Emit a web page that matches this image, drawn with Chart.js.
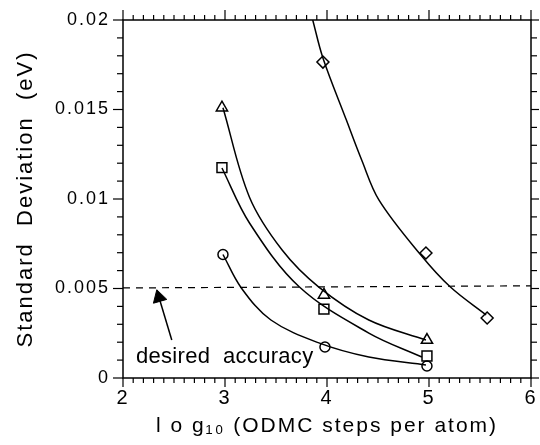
<!DOCTYPE html>
<html><head><meta charset="utf-8">
<script src="https://cdn.jsdelivr.net/npm/chart.js@4.4.1/dist/chart.umd.min.js"></script>
<style>html,body{margin:0;padding:0;background:#fff}#wrap{width:540px;height:445px}</style>
</head><body><div id="wrap"><canvas id="c" width="540" height="445"></canvas></div>
<script>
// ---- data ----
const xTickValues = [2, 3, 4, 5, 6];
const yTickValues = [0, 0.005, 0.01, 0.015, 0.02];
const yTickLabels = ['0', '0.005', '0.01', '0.015', '0.02'];

// markers
const circleX = [2.98, 3.98, 4.98];
const circleY = [0.0069, 0.00173, 0.00067];
const squareX = [2.97, 3.97, 4.98];
const squareY = [0.01175, 0.00385, 0.00123];
const triangleX = [2.97, 3.97, 4.98];
const triangleY = [0.0151, 0.00464, 0.00212];
const diamondX = [3.96, 4.97, 5.57];
const diamondY = [0.01765, 0.00698, 0.00335];

// fitted curves
const circleCurveX = [2.98, 3.16, 3.45, 3.92, 4.41, 4.97];
const circleCurveY = [0.0069, 0.00503, 0.00324, 0.00196, 0.00117, 0.00073];
const squareCurveX = [2.97, 3.24, 3.73, 4.41, 4.93];
const squareCurveY = [0.01173, 0.00866, 0.00508, 0.00251, 0.00117];
const triangleCurveX = [2.98, 3.24, 3.56, 3.92, 4.41, 4.97];
const triangleCurveY = [0.0151, 0.0101, 0.00715, 0.00508, 0.00324, 0.00212];
const diamondCurveX = [3.86, 3.96, 4.19, 4.34, 4.51, 4.92, 5.21, 5.56];
const diamondCurveY = [0.0200, 0.01788, 0.01441, 0.01218, 0.00994, 0.00687, 0.00508, 0.00352];

// desired-accuracy line, arrow and label
const accuracyX = [2, 6];
const accuracyY = [0.00503, 0.00515];
const arrowX = [2.478, 2.353];
const arrowY = [0.00212, 0.0045];
const arrowHeadX = [2.353];
const arrowHeadY = [0.0045];
const noteText = 'desired  accuracy';
const noteX = 2.127;
const noteY = 0.00084;

const FONT = "'Liberation Sans', Arial, Helvetica, sans-serif";
const pts = (xs, ys) => xs.map((v, i) => ({x: v, y: ys[i]}));

const curve = (xs, ys) => ({
  data: pts(xs, ys), showLine: true, borderColor: '#000', borderWidth: 1.5,
  pointRadius: 0, tension: 0.35, fill: false
});
const marker = (xs, ys, style, r) => ({
  data: pts(xs, ys), showLine: false, pointStyle: style, pointRadius: r,
  pointBorderColor: '#000', pointBackgroundColor: 'rgba(0,0,0,0)', pointBorderWidth: 1.5
});

const spacingPlugin = {
  id: 'spacing',
  beforeUpdate(chart) { chart.ctx.letterSpacing = '2px'; },
  beforeDraw(chart) { chart.ctx.letterSpacing = '2px'; }
};

const framePlugin = {
  id: 'frame',
  afterDraw(chart) {
    const {ctx, chartArea: a, scales: {x, y}} = chart;
    ctx.save();
    ctx.strokeStyle = '#000';
    ctx.lineWidth = 1.5;
    ctx.strokeRect(a.left, a.top, a.right - a.left, a.bottom - a.top);
    const seg = (x1, y1, x2, y2) => { ctx.beginPath(); ctx.moveTo(x1, y1); ctx.lineTo(x2, y2); ctx.stroke(); };
    ctx.lineWidth = 1.2;
    for (let i = 0; i <= 40; i++) {
      const px = x.getPixelForValue(2 + i * 0.1);
      const major = i % 10 === 0;
      seg(px, a.bottom, px, a.bottom + (major ? 9 : 5));
      seg(px, a.top, px, a.top - (major ? 10 : 5));
    }
    for (let i = 0; i <= 20; i++) {
      const py = y.getPixelForValue(i * 0.001);
      const major = i % 5 === 0;
      seg(a.left - (major ? 10 : 6), py, a.left, py);
      seg(a.right, py, a.right + (major ? 8 : 6), py);
    }
    ctx.fillStyle = '#000';
    ctx.letterSpacing = '0.3px';
    ctx.font = "22px " + FONT;
    ctx.textAlign = 'left';
    ctx.textBaseline = 'alphabetic';
    ctx.fillText(noteText, x.getPixelForValue(noteX), y.getPixelForValue(noteY));
    ctx.restore();
  }
};

new Chart(document.getElementById('c'), {
  type: 'scatter',
  data: {
    datasets: [
      curve(circleCurveX, circleCurveY),
      curve(squareCurveX, squareCurveY),
      curve(triangleCurveX, triangleCurveY),
      curve(diamondCurveX, diamondCurveY),
      marker(circleX, circleY, 'circle', 5),
      marker(squareX, squareY, 'rect', 7),
      marker(triangleX, triangleY, 'triangle', 6.5),
      marker(diamondX, diamondY, 'rectRot', 6),
      {data: pts(accuracyX, accuracyY), showLine: true, borderColor: '#000', borderWidth: 1.2,
       borderDash: [7, 6], pointRadius: 0},
      {data: pts(arrowX, arrowY), showLine: true, borderColor: '#000', borderWidth: 1.5, pointRadius: 0},
      {data: pts(arrowHeadX, arrowHeadY), showLine: false, pointStyle: 'triangle', pointRadius: 8,
       rotation: -16, pointBackgroundColor: '#000', pointBorderColor: '#000', pointBorderWidth: 1}
    ]
  },
  options: {
    responsive: false,
    animation: false,
    layout: {padding: {top: 20, right: 7, left: 0, bottom: 0}},
    plugins: {legend: {display: false}, tooltip: {enabled: false}},
    scales: {
      x: {
        type: 'linear', min: 2, max: 6,
        afterBuildTicks(s) { s.ticks = xTickValues.map(v => ({value: v})); },
        afterFit(s) { s.height = 67; s.paddingLeft = 0; s.paddingRight = 0; },
        ticks: {font: {family: FONT, size: 20}, color: '#000', padding: 8, maxRotation: 0,
                callback: v => String(v)},
        grid: {display: false, drawTicks: false},
        border: {display: false},
        title: {display: true, text: 'l o g\u2081\u2080 (ODMC steps per atom)', color: '#000',
                font: {family: FONT, size: 21}, padding: {top: 0, bottom: 6}}
      },
      y: {
        type: 'linear', min: 0, max: 0.02,
        afterBuildTicks(s) { s.ticks = yTickValues.map(v => ({value: v})); },
        afterFit(s) { s.width = 123; s.paddingTop = 0; s.paddingBottom = 0; },
        ticks: {font: {family: FONT, size: 18}, color: '#000', padding: 13,
                callback: (v) => yTickLabels[yTickValues.indexOf(v)] ?? ''},
        grid: {display: false, drawTicks: false},
        border: {display: false},
        title: {display: true, text: 'Standard  Deviation  (eV)', color: '#000',
                font: {family: FONT, size: 22}, padding: {top: 13, bottom: 0}}
      }
    }
  },
  plugins: [spacingPlugin, framePlugin]
});
</script>
</body></html>
